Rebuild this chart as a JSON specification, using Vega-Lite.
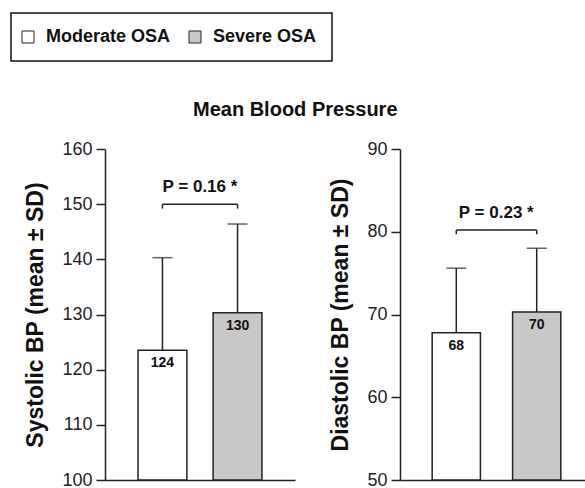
{
  "$schema": "https://vega.github.io/schema/vega-lite/v6.json",
  "padding": {"left": 10, "top": 12, "right": 0, "bottom": 5},
  "background": "white",
  "datasets": {
    "sys": [
      {"group": "Moderate OSA", "mean": 123.5, "upper": 140.3, "label": "124"},
      {"group": "Severe OSA", "mean": 130.3, "upper": 146.4, "label": "130"}
    ],
    "sysP": [
      {"group": "Moderate OSA", "y": 150, "yEnd": 149.2, "label": "P = 0.16 *"},
      {"group": "Severe OSA", "y": 150, "yEnd": 149.2, "label": ""}
    ],
    "dia": [
      {"group": "Moderate OSA", "mean": 67.8, "upper": 75.6, "label": "68"},
      {"group": "Severe OSA", "mean": 70.3, "upper": 78.0, "label": "70"}
    ],
    "diaP": [
      {"group": "Moderate OSA", "y": 80.2, "yEnd": 79.7, "label": "P = 0.23 *"},
      {"group": "Severe OSA", "y": 80.2, "yEnd": 79.7, "label": ""}
    ]
  },
  "title": {
    "text": "Mean Blood Pressure",
    "anchor": "start",
    "frame": "group",
    "dx": 88,
    "offset": -108,
    "font": "Liberation Sans",
    "fontSize": 20,
    "fontWeight": "bold",
    "color": "#111"
  },
  "spacing": 34,
  "config": {
    "view": {"stroke": null},
    "axis": {
      "domainColor": "#222",
      "domainWidth": 1.5,
      "tickColor": "#222",
      "tickWidth": 1.5,
      "tickSize": 9,
      "labelFont": "Liberation Sans",
      "labelFontSize": 18,
      "labelColor": "#222",
      "labelPadding": 4,
      "titleFont": "Liberation Sans",
      "titleFontSize": 23,
      "titleFontWeight": "bold",
      "titleColor": "#111",
      "titlePadding": 14,
      "grid": false
    },
    "legend": {
      "orient": "none",
      "legendX": -94,
      "legendY": -136,
      "direction": "horizontal",
      "gridAlign": "none",
      "title": null,
      "strokeColor": "#111",
      "strokeWidth": 1.5,
      "padding": 15,
      "labelFont": "Liberation Sans",
      "labelFontSize": 18,
      "labelFontWeight": "bold",
      "labelColor": "#111",
      "symbolType": "square",
      "symbolSize": 144,
      "symbolOffset": -7,
      "symbolStrokeColor": "#222",
      "symbolStrokeWidth": 1,
      "columnPadding": 16,
      "labelOffset": 9
    }
  },
  "hconcat": [
    {
      "width": 190,
      "height": 331,
      "encoding": {
        "x": {
          "field": "group", "type": "nominal",
          "scale": {"domain": ["Moderate OSA", "Severe OSA"], "paddingInner": 0.35, "paddingOuter": 0.44},
          "axis": {"labels": false, "ticks": false, "title": null}
        }
      },
      "layer": [
        {
          "data": {"name": "sys"},
          "mark": {"type": "rule", "color": "#222", "strokeWidth": 1.5},
          "encoding": {
            "y": {"field": "mean", "type": "quantitative", "scale": {"domain": [100, 160], "nice": false, "zero": false},
                  "axis": {"values": [100, 110, 120, 130, 140, 150, 160], "title": "Systolic BP (mean ± SD)"}},
            "y2": {"field": "upper"}
          }
        },
        {
          "data": {"name": "sys"},
          "mark": {"type": "tick", "color": "#222", "thickness": 1.5, "size": 20},
          "encoding": {"y": {"field": "upper", "type": "quantitative"}}
        },
        {
          "data": {"name": "sys"},
          "mark": {"type": "bar", "stroke": "#222", "strokeWidth": 1.5},
          "encoding": {
            "y": {"field": "mean", "type": "quantitative"},
            "y2": {"datum": 100},
            "fill": {"field": "group", "type": "nominal",
                     "scale": {"domain": ["Moderate OSA", "Severe OSA"], "range": ["#ffffff", "#c8c8c8"]}}
          }
        },
        {
          "data": {"name": "sys"},
          "mark": {"type": "text", "baseline": "top", "dy": 6, "font": "Liberation Sans", "fontSize": 14, "fontWeight": "bold", "color": "#111"},
          "encoding": {"y": {"field": "mean", "type": "quantitative"}, "text": {"field": "label"}}
        },
        {
          "data": {"name": "sysP"},
          "mark": {"type": "line", "color": "#222", "strokeWidth": 1.5},
          "encoding": {"y": {"field": "y", "type": "quantitative"}}
        },
        {
          "data": {"name": "sysP"},
          "mark": {"type": "rule", "color": "#222", "strokeWidth": 1.5},
          "encoding": {"y": {"field": "y", "type": "quantitative"}, "y2": {"field": "yEnd"}}
        },
        {
          "data": {"name": "sysP"},
          "mark": {"type": "text", "baseline": "bottom", "align": "center", "dx": 37.5, "dy": -8, "font": "Liberation Sans", "fontSize": 17, "fontWeight": "bold", "color": "#111"},
          "encoding": {"y": {"field": "y", "type": "quantitative"}, "text": {"field": "label"}}
        }
      ]
    },
    {
      "width": 193,
      "height": 331,
      "encoding": {
        "x": {
          "field": "group", "type": "nominal",
          "scale": {"domain": ["Moderate OSA", "Severe OSA"], "paddingInner": 0.4, "paddingOuter": 0.4},
          "axis": {"labels": false, "ticks": false, "title": null}
        }
      },
      "layer": [
        {
          "data": {"name": "dia"},
          "mark": {"type": "rule", "color": "#222", "strokeWidth": 1.5},
          "encoding": {
            "y": {"field": "mean", "type": "quantitative", "scale": {"domain": [50, 90], "nice": false, "zero": false},
                  "axis": {"values": [50, 60, 70, 80, 90], "title": "Diastolic BP (mean ± SD)"}},
            "y2": {"field": "upper"}
          }
        },
        {
          "data": {"name": "dia"},
          "mark": {"type": "tick", "color": "#222", "thickness": 1.5, "size": 20},
          "encoding": {"y": {"field": "upper", "type": "quantitative"}}
        },
        {
          "data": {"name": "dia"},
          "mark": {"type": "bar", "stroke": "#222", "strokeWidth": 1.5},
          "encoding": {
            "y": {"field": "mean", "type": "quantitative"},
            "y2": {"datum": 50},
            "fill": {"field": "group", "type": "nominal",
                     "scale": {"domain": ["Moderate OSA", "Severe OSA"], "range": ["#ffffff", "#c8c8c8"]}}
          }
        },
        {
          "data": {"name": "dia"},
          "mark": {"type": "text", "baseline": "top", "dy": 6, "font": "Liberation Sans", "fontSize": 14, "fontWeight": "bold", "color": "#111"},
          "encoding": {"y": {"field": "mean", "type": "quantitative"}, "text": {"field": "label"}}
        },
        {
          "data": {"name": "diaP"},
          "mark": {"type": "line", "color": "#222", "strokeWidth": 1.5},
          "encoding": {"y": {"field": "y", "type": "quantitative"}}
        },
        {
          "data": {"name": "diaP"},
          "mark": {"type": "rule", "color": "#222", "strokeWidth": 1.5},
          "encoding": {"y": {"field": "y", "type": "quantitative"}, "y2": {"field": "yEnd"}}
        },
        {
          "data": {"name": "diaP"},
          "mark": {"type": "text", "baseline": "bottom", "align": "center", "dx": 40, "dy": -8, "font": "Liberation Sans", "fontSize": 17, "fontWeight": "bold", "color": "#111"},
          "encoding": {"y": {"field": "y", "type": "quantitative"}, "text": {"field": "label"}}
        }
      ]
    }
  ]
}
